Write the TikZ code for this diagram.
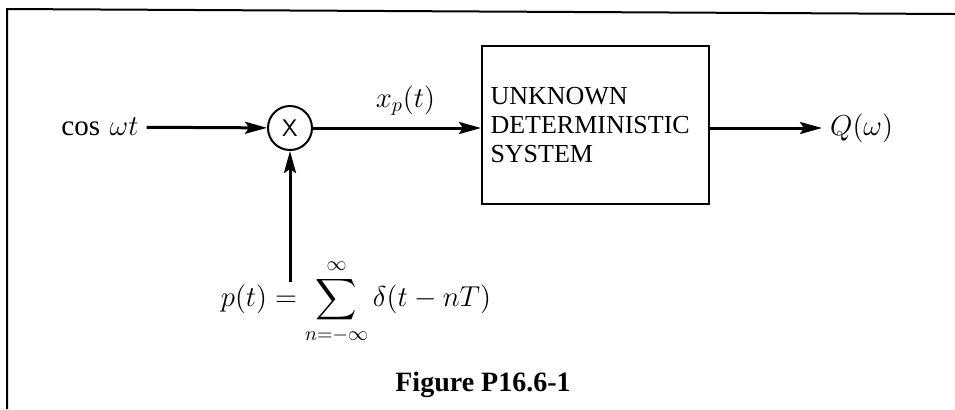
\documentclass[tikz,border=0pt]{standalone}
\usepackage{amsmath}
\usepackage{fontspec}
\setmainfont{Liberation Serif}
\usetikzlibrary{positioning}
\usetikzlibrary{arrows.meta}

\begin{document}
\begin{tikzpicture}[->,>={Stealth[length=11pt,width=6pt,inset=2pt]},line width=1.5pt,
        x=0.5pt,y=-0.5pt,font=\fontsize{13}{14.5}\selectfont,
        mathtext/.style={font=\fontsize{14.5}{16}\selectfont}]

  \useasboundingbox (0,0) rectangle (955,409);
  \draw[-,line width=1pt] (7,409) -- (7,9) -- (955,14);

  \node[mathtext] (in) at (100,127) {$\cos\,\omega t$};
  \node[circle,draw,minimum size=22pt,inner sep=0pt,line width=1pt] (mult) at (290,128) {\sffamily\large X};
  \node[draw,line width=1pt,minimum width=113.5pt,minimum height=79pt,text width=105pt,align=left] (sys) at (595.5,125)
       {UNKNOWN\\DETERMINISTIC\\SYSTEM};
  \node[mathtext,anchor=west] (out) at (822,128) {$Q(\omega)$};
  \node[mathtext] (pt) at (356,302) {$\displaystyle p(t) = \sum_{n=-\infty}^{\infty} \delta(t - nT)$};
  \coordinate (pin) at (290,282);
  \node[font=\fontsize{14}{16}\selectfont\bfseries] (cap) at (483,385) {Figure P16.6-1};

  \path (in) edge (mult)
        (mult) edge node[mathtext,above=2pt,pos=.55] {$x_p(t)$} (mult -| sys.west)
        (mult -| sys.east) edge (out)
        (pin) edge (mult);

\end{tikzpicture}
\end{document}
